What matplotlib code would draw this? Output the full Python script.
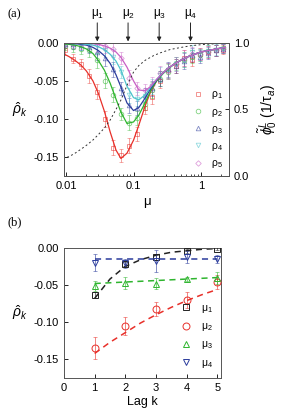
import matplotlib
matplotlib.use("Agg")
import matplotlib.pyplot as plt

plt.rcParams['font.family'] = ['Liberation Sans', 'DejaVu Sans']
plt.rcParams['mathtext.fontset'] = 'custom'
plt.rcParams['mathtext.rm'] = 'Liberation Sans'
plt.rcParams['mathtext.it'] = 'Liberation Sans:italic'
plt.rcParams['mathtext.bf'] = 'Liberation Sans:bold'

# ---------------- panel (a) data ----------------
mu_pts = [0.0098, 0.0128, 0.0168, 0.022, 0.029, 0.038, 0.05, 0.065, 0.085, 0.112,
          0.146, 0.19, 0.25, 0.33, 0.43, 0.56, 0.74, 0.97, 1.27, 1.66, 2.1]
rho1_pts = [-0.010, -0.021, -0.028, -0.044, -0.064, -0.100, -0.138, -0.148, -0.135, -0.120,
            -0.086, -0.071, -0.050, -0.036, -0.030, -0.020, -0.022, -0.015, -0.012, -0.010, -0.009]
rho2_pts = [-0.004, -0.006, -0.008, -0.010, -0.023, -0.050, -0.068, -0.094, -0.105, -0.099,
            -0.080, -0.062, -0.047, -0.038, -0.027, -0.022, -0.018, -0.016, -0.011, -0.010, -0.007]
rho3_pts = [-0.001, -0.002, -0.003, -0.005, -0.012, -0.020, -0.035, -0.060, -0.082, -0.086,
            -0.068, -0.060, -0.047, -0.035, -0.030, -0.024, -0.016, -0.018, -0.013, -0.010, -0.008]
rho4_pts = [-0.001, -0.001, -0.002, -0.003, -0.004, -0.009, -0.018, -0.038, -0.069, -0.074,
            -0.070, -0.057, -0.042, -0.036, -0.028, -0.022, -0.012, -0.016, -0.011, -0.009, -0.008]
rho5_pts = [-0.000, -0.001, -0.001, -0.002, -0.002, -0.004, -0.008, -0.020, -0.046, -0.060,
            -0.062, -0.055, -0.040, -0.037, -0.028, -0.020, -0.015, -0.015, -0.012, -0.010, -0.008]
rho_err = [0.006, 0.006, 0.007, 0.009, 0.010, 0.010, 0.010, 0.008, 0.010, 0.009,
           0.008, 0.010, 0.010, 0.010, 0.009, 0.010, 0.009, 0.008, 0.008, 0.007, 0.006]

mu_fit = [0.009, 0.011, 0.0135, 0.0165, 0.02, 0.025, 0.03, 0.037, 0.045, 0.055, 0.065,
          0.08, 0.1, 0.12, 0.15, 0.18, 0.22, 0.27, 0.33, 0.4, 0.5, 0.65, 0.8, 1.0, 1.3, 1.7, 2.3]
tail = [-0.023, -0.018, -0.015, -0.012, -0.010, -0.008, -0.006]
rho1_fit = [-0.014, -0.018, -0.023, -0.029, -0.037, -0.050, -0.066, -0.090, -0.117, -0.141, -0.152,
            -0.145, -0.128, -0.108, -0.082, -0.064, -0.050, -0.040, -0.033, -0.028] + tail
rho2_fit = [-0.001, -0.002, -0.003, -0.005, -0.008, -0.014, -0.023, -0.036, -0.053, -0.074, -0.091,
            -0.106, -0.104, -0.095, -0.078, -0.063, -0.050, -0.041, -0.034, -0.028] + tail
rho3_fit = [0.000, -0.001, -0.001, -0.002, -0.003, -0.006, -0.010, -0.017, -0.027, -0.042, -0.058,
            -0.079, -0.089, -0.085, -0.072, -0.060, -0.049, -0.040, -0.033, -0.028] + tail
rho4_fit = [0.000, 0.000, -0.001, -0.001, -0.002, -0.003, -0.005, -0.009, -0.015, -0.024, -0.036,
            -0.057, -0.072, -0.075, -0.068, -0.058, -0.048, -0.040, -0.033, -0.028] + tail
rho5_fit = [0.000, 0.000, 0.000, 0.000, 0.000, -0.001, -0.002, -0.004, -0.007, -0.012, -0.019,
            -0.032, -0.050, -0.062, -0.063, -0.057, -0.048, -0.040, -0.033, -0.028] + tail

mu_phi = [0.009, 0.011, 0.0135, 0.0165, 0.02, 0.025, 0.03, 0.037, 0.045, 0.055, 0.065,
          0.08, 0.1, 0.12, 0.15, 0.2, 0.25, 0.35, 0.5, 0.7, 1.0, 1.5, 2.3]
phi0 = [0.13, 0.145, 0.17, 0.20, 0.23, 0.27, 0.31, 0.36, 0.42, 0.50, 0.57,
        0.68, 0.78, 0.83, 0.87, 0.905, 0.925, 0.95, 0.965, 0.978, 0.986, 0.992, 0.996]

mu_marks = [0.029, 0.083, 0.24, 0.70]
mu_mark_labels = ['μ$_1$', 'μ$_2$', 'μ$_3$', 'μ$_4$']

# ---------------- panel (b) data ----------------
lags = [1, 2, 3, 4, 5]
b_mu1 = [-0.063, -0.022, -0.012, -0.004, -0.001]
b_mu1_err = [0.004, 0.003, 0.004, 0.003, 0.002]
b_mu2 = [-0.135, -0.105, -0.082, -0.070, -0.046]
b_mu2_err = [0.015, 0.012, 0.009, 0.011, 0.009]
b_mu3 = [-0.051, -0.047, -0.048, -0.042, -0.040]
b_mu3_err = [0.007, 0.008, 0.008, 0.003, 0.008]
b_mu4 = [-0.020, -0.021, -0.018, -0.012, -0.015]
b_mu4_err = [0.011, 0.006, 0.015, 0.008, 0.005]

lag_fit = [1.0, 1.5, 2.0, 2.5, 3.0, 3.5, 4.0, 4.5, 5.0]
b_mu1_fit = [-0.068, -0.042, -0.025, -0.016, -0.010, -0.006, -0.004, -0.002, -0.001]
b_mu2_fit = [-0.142, -0.127, -0.114, -0.101, -0.090, -0.080, -0.071, -0.063, -0.056]
b_mu3_fit = [-0.048, -0.047, -0.046, -0.045, -0.044, -0.043, -0.042, -0.041, -0.040]
b_mu4_fit = [-0.015, -0.015, -0.015, -0.015, -0.015, -0.015, -0.015, -0.015, -0.015]

# ---------------- styling ----------------
c_red = '#e8302a'
c_green = '#2fb52f'
c_blue = '#2b3c9c'
c_cyan = '#4ec3cc'
c_mag = '#c85fc4'
c_black = '#222222'

fig = plt.figure(figsize=(2.83, 4.2), dpi=100)
axa = fig.add_axes([0.226, 0.581, 0.583, 0.317])
axb = fig.add_axes([0.226, 0.100, 0.555, 0.310])

series = [
    (rho1_pts, rho1_fit, c_red, 's', 'ρ$_1$'),
    (rho2_pts, rho2_fit, c_green, 'o', 'ρ$_2$'),
    (rho3_pts, rho3_fit, c_blue, '^', 'ρ$_3$'),
    (rho4_pts, rho4_fit, c_cyan, 'v', 'ρ$_4$'),
    (rho5_pts, rho5_fit, c_mag, 'D', 'ρ$_5$'),
]
handles = []
for pts, fit, col, mk, lab in series:
    axa.errorbar(mu_pts, pts, yerr=rho_err, fmt='none', ecolor=col, alpha=0.45,
                 elinewidth=0.7, capsize=1.5, capthick=0.6, zorder=2)
    h, = axa.plot(mu_pts, pts, linestyle='none', marker=mk, ms=3.3 if mk != 'D' else 2.8,
                  mfc='none', mec=col, mew=0.6, alpha=0.6, zorder=3, label=lab)
    handles.append(h)
    axa.plot(mu_fit, fit, color=col, lw=0.9, zorder=4)

axa.set_xscale('log')
axa.set_xlim(0.0093, 2.6)
axa.set_ylim(-0.175, 0.0)
axa.set_yticks([0.0, -0.05, -0.10, -0.15])
axa.set_yticklabels(['0.00', '-0.05', '-0.10', '-0.15'])
axa.set_xticks([0.01, 0.1, 1])
axa.set_xticklabels(['0.01', '0.1', '1'])
axa.tick_params(axis='both', which='both', direction='in', labelsize=8, length=3, width=0.6)
axa.tick_params(axis='x', which='minor', length=1.8, width=0.5)
axa.set_xlabel('μ', fontsize=9.5, labelpad=4)
axa.set_ylabel(r'$\hat{\rho}_k$', fontsize=10, rotation=0, labelpad=10, va='center')
for s in axa.spines.values():
    s.set_linewidth(0.7)
    s.set_color('#555555')

axr = axa.twinx()
axr.plot(mu_phi, phi0, color='#333333', lw=0.7, linestyle=(0, (2.0, 2.5)))
axr.set_ylim(0.0, 1.0)
axr.set_yticks([0.0, 0.5, 1.0])
axr.set_yticklabels(['0.0', '0.5', '1.0'])
axr.tick_params(axis='y', direction='in', labelsize=8, length=3, width=0.6)
axr.set_ylabel(r'$\tilde{\phi}_0^L$ (1/τ$_a$)', fontsize=10, rotation=90, labelpad=5)
for s in axr.spines.values():
    s.set_linewidth(0.7)
    s.set_color('#555555')

leg = axa.legend(handles=handles, loc='lower right', frameon=False, fontsize=7.5,
                 handlelength=1.0, handletextpad=0.8, labelspacing=0.5,
                 borderaxespad=0.15, markerscale=1.0)

for m, lab in zip(mu_marks, mu_mark_labels):
    axa.annotate('', xy=(m, 1.0), xycoords=('data', 'axes fraction'),
                 xytext=(m, 1.15), textcoords=('data', 'axes fraction'),
                 arrowprops=dict(arrowstyle='-|>', color='#222222', lw=0.7,
                                 mutation_scale=6, shrinkA=0, shrinkB=1))
    axa.text(m, 1.165, lab, transform=axa.get_xaxis_transform(), ha='center', va='bottom',
             fontsize=8.5)

fig.text(0.025, 0.965, '(a)', fontsize=9, family='Liberation Serif', va='center')
fig.text(0.025, 0.47, '(b)', fontsize=9, family='Liberation Serif', va='center')

# ---------------- panel (b) ----------------
bser = [
    (b_mu1, b_mu1_err, b_mu1_fit, c_black, 's', 'μ$_1$', 4.0),
    (b_mu2, b_mu2_err, b_mu2_fit, c_red, 'o', 'μ$_2$', 5.0),
    (b_mu3, b_mu3_err, b_mu3_fit, c_green, '^', 'μ$_3$', 5.0),
    (b_mu4, b_mu4_err, b_mu4_fit, c_blue, 'v', 'μ$_4$', 5.0),
]
bh = []
for vals, errs, fit, col, mk, lab, ms in bser:
    axb.plot(lag_fit, fit, color=col, lw=1.1, linestyle=(0, (4, 3)), zorder=2)
    axb.errorbar(lags, vals, yerr=errs, fmt='none', ecolor=col, alpha=0.6,
                 elinewidth=0.7, capsize=1.5, capthick=0.6, zorder=3)
    h, = axb.plot(lags, vals, linestyle='none', marker=mk, ms=ms, mfc='none', mec=col,
                  mew=0.7, zorder=4, label=lab)
    bh.append(h)

axb.set_xlim(0, 5.12)
axb.set_ylim(-0.175, 0.0)
axb.set_xticks([0, 1, 2, 3, 4, 5])
axb.set_yticks([0.0, -0.05, -0.10, -0.15])
axb.set_yticklabels(['0.00', '-0.05', '-0.10', '-0.15'])
axb.tick_params(axis='both', direction='in', labelsize=8, length=3, width=0.6)
axb.set_xlabel('Lag k', fontsize=9, labelpad=2)
axb.set_ylabel(r'$\hat{\rho}_k$', fontsize=10, rotation=0, labelpad=10, va='center')
for s in axb.spines.values():
    s.set_linewidth(0.7)
    s.set_color('#555555')
axb.legend(handles=bh, loc='lower right', frameon=False, fontsize=7.5,
           handlelength=1.0, handletextpad=0.9, labelspacing=0.6, borderaxespad=0.4)

fig.savefig('out.png', dpi=100)
